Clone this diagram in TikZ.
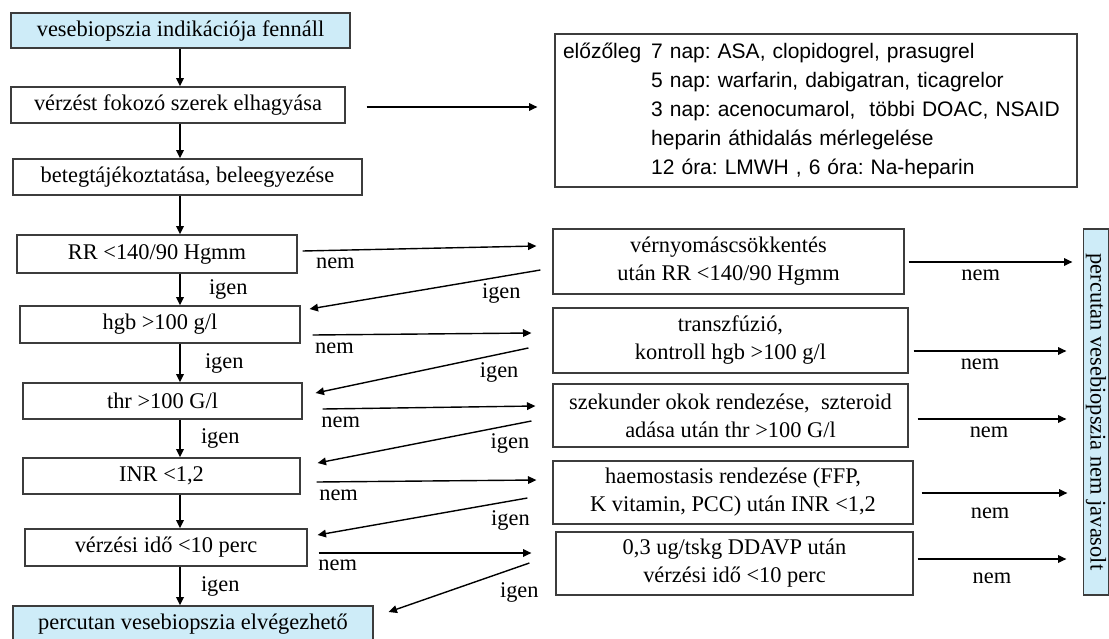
\documentclass[tikz,border=0pt]{standalone}
\usepackage{fontspec}
\setmainfont{Liberation Serif}
\newfontfamily\infofont{Liberation Sans}
\usetikzlibrary{arrows.meta,calc}
\definecolor{halvanykek}{RGB}{206,236,248}
\definecolor{keret}{RGB}{60,60,60}
\frenchspacing

\begin{document}
\begin{tikzpicture}[x=0.5pt, y=-0.5pt, >={Triangle[length=4.2pt,width=3.8pt]},
    doboz/.style={rectangle, draw=keret, line width=0.6pt, inner sep=1pt, align=center,
      font=\fontsize{11.2}{14}\selectfont},
    kekdoboz/.style={doboz, fill=halvanykek},
    varr/.style={->, line width=1pt},
    harr/.style={->, line width=0.7pt},
    felirat/.style={inner sep=0pt, font=\fontsize{11.2}{14}\selectfont}]
  \useasboundingbox (0,0) rectangle (1109,638);
  % Left column: the checks one under the other
  \node[kekdoboz, minimum width=169.5pt, minimum height=17.5pt] (kezdet) at (180.5,30.5) {vesebiopszia indikációja fennáll};
  \node[doboz, minimum width=167pt, minimum height=18pt] (elhagy) at (178,105) {vérzést fokozó szerek elhagyása};
  \node[doboz, minimum width=174.5pt, minimum height=18pt] (tajek) at (187.5,177) {betegtájékoztatása, beleegyezése};
  \node[doboz, minimum width=140pt, minimum height=19pt] (rr) at (157,254) {RR <140/90 Hgmm};
  \node[doboz, minimum width=140pt, minimum height=18.5pt] (hgb) at (160,324.5) {hgb >100 g/l};
  \node[doboz, minimum width=139.5pt, minimum height=18pt] (thr) at (162.5,401) {thr >100 G/l};
  \node[doboz, minimum width=138.5pt, minimum height=18pt] (inr) at (161.5,476) {INR <1,2};
  \node[doboz, minimum width=141pt, minimum height=18.5pt] (vido) at (166,547.5) {vérzési idő <10 perc};
  \node[kekdoboz, minimum width=180pt, minimum height=18pt] (vege) at (193,624) {percutan vesebiopszia elvégezhető};

  % Right column: corrections
  \node[doboz, text width=253pt, inner xsep=4pt, minimum height=76.5pt, align=left,
    font=\infofont\fontsize{10.5}{14.5}\selectfont] (info) at (816,110.5)
    {\begin{tabular}{@{}l@{\hspace{5pt}}l@{}}
      előzőleg & 7 nap: ASA, clopidogrel, prasugrel\\
      & 5 nap: warfarin, dabigatran, ticagrelor\\
      & 3 nap: acenocumarol,\ \ többi DOAC, NSAID\\
      & heparin áthidalás mérlegelése\\
      & 12 óra: LMWH , 6 óra: Na-heparin
    \end{tabular}};
  \node[doboz, minimum width=175.5pt, minimum height=32.5pt] (vny) at (728.5,261.5) {vérnyomáscsökkentés\\után RR <140/90 Hgmm};
  \node[doboz, minimum width=177.5pt, minimum height=32.5pt] (transz) at (730.5,340.5) {transzfúzió,\\kontroll hgb >100 g/l};
  \node[doboz, minimum width=177.5pt, minimum height=31.5pt] (szek) at (730.5,415.5) {szekunder okok rendezése,\ \ szteroid\\adása után thr >100 G/l};
  \node[doboz, minimum width=180pt, minimum height=31.5pt] (haem) at (733,492.5) {haemostasis rendezése (FFP,\\K vitamin, PCC) után INR <1,2};
  \node[doboz, minimum width=178.5pt, minimum height=31.5pt] (ddavp) at (734.5,563.5) {0,3 ug/tskg DDAVP után\\vérzési idő <10 perc};
  \node[kekdoboz, rotate=-90, inner sep=0pt, minimum width=183pt, minimum height=12.5pt] (nemjav) at (1096,412) {percutan vesebiopszia nem javasolt};

  % Vertical arrows on the main line
  \coordinate (gerinc) at (180,0);
  \draw[varr] (kezdet.south -| gerinc) -- (elhagy.north -| gerinc);
  \draw[varr] (elhagy.south -| gerinc) -- (tajek.north -| gerinc);
  \draw[varr] (tajek.south -| gerinc) -- (rr.north -| gerinc);
  \draw[varr] (rr.south -| gerinc) -- node[felirat, right=14pt] {igen} (hgb.north -| gerinc);
  \draw[varr] (hgb.south -| gerinc) -- node[felirat, right=12pt] {igen} (thr.north -| gerinc);
  \draw[varr] (thr.south -| gerinc) -- node[felirat, right=10pt] {igen} (inr.north -| gerinc);
  \draw[varr] (inr.south -| gerinc) -- (vido.north -| gerinc);
  \draw[varr] (vido.south -| gerinc) -- node[felirat, right=10pt] {igen} (vege.north -| gerinc);

  % Drug list
  \draw[harr] ([shift={(21,2)}]elhagy.east) -- ([shift={(-17,-3.5)}]info.west);

  % nem: to the corrections
  \draw[harr] ([shift={(5,-3)}]rr.east) -- node[felirat, pos=0.14, below=3.5pt] {nem} ([shift={(-16,-15.5)}]vny.west);
  \draw[harr] ([shift={(12,10.5)}]hgb.east) -- node[felirat, pos=0.1, below=3.5pt] {nem} ([shift={(-21,-7.5)}]transz.west);
  \draw[harr] ([shift={(20,8)}]thr.east) -- node[felirat, pos=0.085, below=3.5pt] {nem} ([shift={(-17,-9.5)}]szek.west);
  \draw[harr] ([shift={(16,6)}]inr.east) -- node[felirat, pos=0.1, below=3.5pt] {nem} ([shift={(-16,-12.5)}]haem.west);
  \draw[harr] ([shift={(11,5.5)}]vido.east) -- node[felirat, pos=0.09, below=3pt] {nem} ([shift={(-24,-10.5)}]ddavp.west);

  % igen: back to the main line
  \draw[harr] ([shift={(-12,8.5)}]vny.west) -- node[felirat, pos=0.1, below=4.5pt, xshift=-8pt] {igen} ([shift={(9,-15.5)}]hgb.east);
  \draw[harr] ([shift={(-24,7.5)}]transz.west) -- node[felirat, pos=0.1, below=4.5pt, xshift=-4pt] {igen} ([shift={(13,-8)}]thr.east);
  \draw[harr] ([shift={(-21,5.5)}]szek.west) -- node[felirat, pos=0.1, below=4pt] {igen} ([shift={(17,-13)}]inr.east);
  \draw[harr] ([shift={(-25,5.5)}]haem.west) -- node[felirat, pos=0.1, below=4pt, xshift=2pt] {igen} ([shift={(10,-12.5)}]vido.east);
  \draw[harr] ([shift={(-26,-0.5)}]ddavp.west) -- node[felirat, pos=0.1, below=7pt, xshift=2pt] {igen} ([shift={(15,-12)}]vege.east);

  % nem: not advised
  \draw[harr] ([shift={(4,0.5)}]vny.east) -- node[felirat, pos=0.44, below=3.5pt] {nem} ($(vny.east -| nemjav.south)+(-10.5,0.5)$);
  \draw[harr] ([shift={(5,10.5)}]transz.east) -- node[felirat, pos=0.435, below=3.5pt] {nem} ($(transz.east -| nemjav.south)+(-16.5,10.5)$);
  \draw[harr] ([shift={(9,3.5)}]szek.east) -- node[felirat, pos=0.48, below=3.5pt] {nem} ($(szek.east -| nemjav.south)+(-16.5,3.5)$);
  \draw[harr] ([shift={(8,0.5)}]haem.east) -- node[felirat, pos=0.47, below=7pt] {nem} ($(haem.east -| nemjav.south)+(-15.5,0.5)$);
  \draw[harr] ([shift={(4,-4.5)}]ddavp.east) -- node[felirat, pos=0.5, below=6.5pt] {nem} ($(ddavp.east -| nemjav.south)+(-16.5,-4.5)$);
\end{tikzpicture}
\end{document}
